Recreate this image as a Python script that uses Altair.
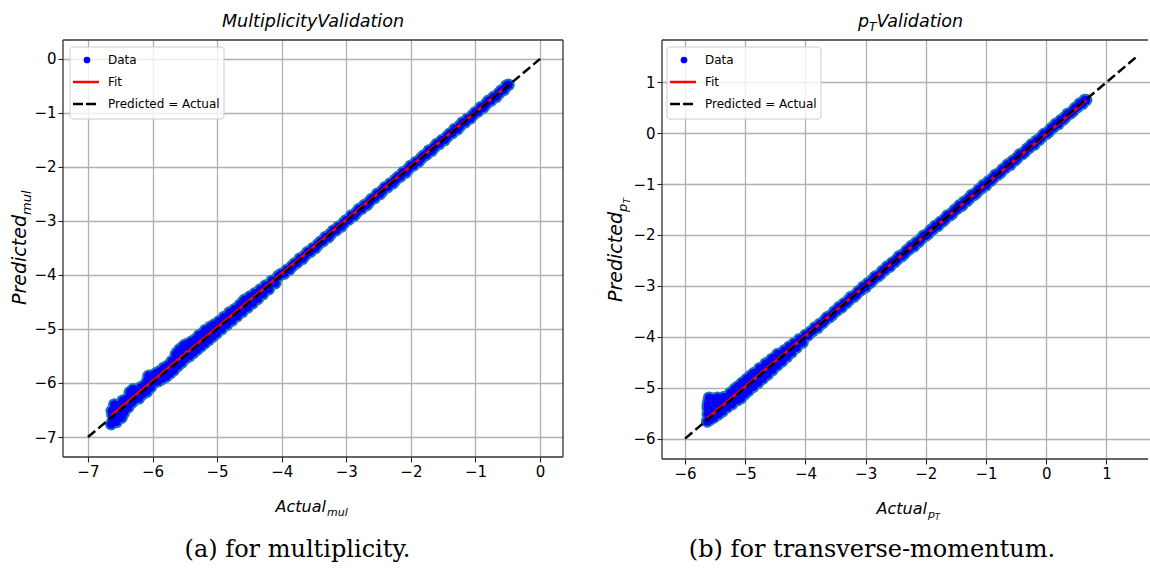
import altair as alt
import pandas as pd

SANS = "DejaVu Sans"
SERIF = "DejaVu Serif"

# ---------------- multiplicity validation data ----------------
mul_actual = [
    -6.64, -6.63, -6.61, -6.59, -6.56, -6.54, -6.51, -6.48, -6.46, -6.43,
    -6.40, -6.38, -6.35, -6.32, -6.30, -6.27, -6.24, -6.21, -6.18, -6.15,
    -6.12, -6.09, -6.06, -6.03, -6.00, -5.97, -5.94, -5.91, -5.88, -5.85,
    -5.82, -5.79, -5.76, -5.73, -5.70, -5.67, -5.64, -5.61, -5.58, -5.55,
    -5.52, -5.49, -5.46, -5.43, -5.40, -5.37, -5.34, -5.31, -5.28, -5.25,
    -5.22, -5.19, -5.16, -5.13, -5.10, -5.07, -5.04, -5.01, -4.97, -4.93,
    -4.89, -4.85, -4.81, -4.77, -4.73, -4.69, -4.65, -4.61, -4.57, -4.53,
    -4.49, -4.45, -4.41, -4.37, -4.33, -4.29, -4.25, -4.20, -4.15, -4.10,
    -4.05,
    -4.00, -3.96, -3.92, -3.88, -3.84, -3.80, -3.76, -3.72, -3.68, -3.64,
    -3.60, -3.56, -3.52, -3.48, -3.44, -3.40, -3.36, -3.32, -3.28, -3.24,
    -3.20, -3.16, -3.12, -3.08, -3.04, -3.00, -2.96, -2.92, -2.88, -2.84,
    -2.80, -2.76, -2.72, -2.68, -2.64, -2.60, -2.56, -2.52, -2.48, -2.44,
    -2.40, -2.36, -2.32, -2.28, -2.24, -2.20, -2.16, -2.12, -2.08, -2.04,
    -2.00, -1.96, -1.92, -1.88, -1.84, -1.80, -1.76, -1.72, -1.68, -1.64,
    -1.60, -1.56, -1.52, -1.48, -1.44, -1.40, -1.36, -1.32, -1.28, -1.24,
    -1.20, -1.16, -1.12, -1.08, -1.04, -1.00, -0.96, -0.92, -0.88, -0.84,
    -0.80, -0.76, -0.72, -0.68, -0.64, -0.60, -0.56, -0.52, -0.49,
    -6.62, -6.58, -6.52, -6.45, -6.33, -6.08, -5.62, -5.56, -5.50, -5.44,
    -5.18, -4.60,
]
mul_predicted = [
    -6.76, -6.52, -6.62, -6.40, -6.72, -6.55, -6.44, -6.64, -6.33, -6.50,
    -6.30, -6.45, -6.17, -6.36, -6.12, -6.30, -6.16, -6.28, -6.08, -6.20,
    -6.04, -6.16, -5.87, -6.08, -5.86, -5.99, -5.82, -5.96, -5.78, -5.92,
    -5.72, -5.88, -5.68, -5.82, -5.60, -5.76, -5.48, -5.68, -5.38, -5.62,
    -5.32, -5.54, -5.28, -5.50, -5.24, -5.44, -5.20, -5.38, -5.12, -5.32,
    -5.08, -5.26, -5.02, -5.20, -4.96, -5.14, -4.92, -5.08, -4.86, -5.00,
    -4.78, -4.92, -4.70, -4.84, -4.64, -4.76, -4.56, -4.68, -4.46, -4.60,
    -4.40, -4.52, -4.34, -4.44, -4.27, -4.35, -4.20, -4.26, -4.11, -4.15,
    -4.02,
    -3.98, -3.97, -3.91, -3.90, -3.84, -3.79, -3.77, -3.70, -3.70, -3.64,
    -3.58, -3.57, -3.51, -3.50, -3.44, -3.39, -3.37, -3.30, -3.30, -3.24,
    -3.18, -3.17, -3.11, -3.10, -3.04, -2.99, -2.97, -2.90, -2.90, -2.84,
    -2.78, -2.77, -2.71, -2.70, -2.64, -2.59, -2.57, -2.50, -2.50, -2.44,
    -2.38, -2.37, -2.31, -2.30, -2.24, -2.19, -2.17, -2.10, -2.10, -2.04,
    -1.98, -1.97, -1.91, -1.90, -1.84, -1.79, -1.77, -1.70, -1.70, -1.64,
    -1.58, -1.57, -1.51, -1.50, -1.44, -1.39, -1.37, -1.30, -1.30, -1.24,
    -1.18, -1.17, -1.11, -1.10, -1.04, -0.99, -0.97, -0.90, -0.90, -0.84,
    -0.78, -0.77, -0.71, -0.70, -0.64, -0.59, -0.57, -0.50, -0.48,
    -6.58, -6.66, -6.42, -6.56, -6.22, -5.96, -5.44, -5.40, -5.30, -5.34,
    -5.02, -4.50,
]
mul_fit_actual = [-6.64, -0.50]
mul_fit_predicted = [-6.60, -0.49]
mul_identity = [-7.0, 0.0]
mul_ticks = [-7, -6, -5, -4, -3, -2, -1, 0]

# ---------------- transverse-momentum validation data ----------------
pt_actual = [
    -5.63, -5.62, -5.62, -5.61, -5.60, -5.58, -5.56, -5.55, -5.53, -5.52,
    -5.50, -5.48, -5.46, -5.45, -5.42, -5.40, -5.38, -5.35, -5.33, -5.30,
    -5.27, -5.25, -5.22, -5.19, -5.16, -5.13, -5.10, -5.07, -5.04, -5.01,
    -4.98, -4.95, -4.91, -4.87, -4.83, -4.79, -4.75, -4.71, -4.67, -4.63,
    -4.59, -4.55, -4.51, -4.47, -4.43, -4.39, -4.35, -4.31, -4.27, -4.23,
    -4.19, -4.15, -4.10, -4.05, -4.00,
    -3.96, -3.92, -3.88, -3.84, -3.80, -3.76, -3.72, -3.68, -3.64, -3.60,
    -3.56, -3.52, -3.48, -3.44, -3.40, -3.36, -3.32, -3.28, -3.24, -3.20,
    -3.16, -3.12, -3.08, -3.04, -3.00, -2.96, -2.92, -2.88, -2.84, -2.80,
    -2.76, -2.72, -2.68, -2.64, -2.60, -2.56, -2.52, -2.48, -2.44, -2.40,
    -2.36, -2.32, -2.28, -2.24, -2.20, -2.16, -2.12, -2.08, -2.04, -2.00,
    -1.96, -1.92, -1.88, -1.84, -1.80, -1.76, -1.72, -1.68, -1.64, -1.60,
    -1.56, -1.52, -1.48, -1.44, -1.40, -1.36, -1.32, -1.28, -1.24, -1.20,
    -1.16, -1.12, -1.08, -1.04, -1.00, -0.96, -0.92, -0.88, -0.84, -0.80,
    -0.76, -0.72, -0.68, -0.64, -0.60, -0.56, -0.52, -0.48, -0.44, -0.40,
    -0.36, -0.32, -0.28, -0.24, -0.20, -0.16, -0.12, -0.08, -0.04, 0.00,
    0.04, 0.08, 0.12, 0.16, 0.20, 0.24, 0.28, 0.32, 0.36, 0.40,
    0.44, 0.48, 0.52, 0.56, 0.60, 0.64, 0.66,
    -5.62, -5.60, -5.58, -5.57, -5.54, -5.51, -5.49, -5.44, -5.41, -5.37,
    -5.36, -5.30, -5.24, -5.18, -5.12, -5.06, -4.96, -4.86, -4.76, -4.66,
    -4.56, -4.46,
]
pt_predicted = [
    -5.66, -5.52, -5.40, -5.28, -5.20, -5.62, -5.46, -5.33, -5.22, -5.58,
    -5.42, -5.30, -5.20, -5.52, -5.38, -5.21, -5.46, -5.30, -5.19, -5.38,
    -5.20, -5.12, -5.32, -5.10, -5.02, -5.24, -4.98, -5.20, -4.90, -5.12,
    -4.84, -5.06, -4.77, -4.98, -4.71, -4.90, -4.64, -4.82, -4.57, -4.74,
    -4.49, -4.65, -4.41, -4.56, -4.34, -4.48, -4.27, -4.39, -4.20, -4.30,
    -4.13, -4.21, -4.05, -4.11, -3.97,
    -3.97, -3.91, -3.88, -3.82, -3.82, -3.75, -3.73, -3.68, -3.62, -3.61,
    -3.57, -3.51, -3.48, -3.42, -3.42, -3.35, -3.33, -3.28, -3.22, -3.21,
    -3.17, -3.11, -3.08, -3.02, -3.02, -2.95, -2.93, -2.88, -2.82, -2.81,
    -2.77, -2.71, -2.68, -2.62, -2.62, -2.55, -2.53, -2.48, -2.42, -2.41,
    -2.37, -2.31, -2.28, -2.22, -2.22, -2.15, -2.13, -2.08, -2.02, -2.01,
    -1.97, -1.91, -1.88, -1.82, -1.82, -1.75, -1.73, -1.68, -1.62, -1.61,
    -1.57, -1.51, -1.48, -1.42, -1.42, -1.35, -1.33, -1.28, -1.22, -1.21,
    -1.17, -1.11, -1.08, -1.02, -1.02, -0.95, -0.93, -0.88, -0.82, -0.81,
    -0.77, -0.71, -0.68, -0.62, -0.62, -0.55, -0.53, -0.48, -0.42, -0.41,
    -0.37, -0.31, -0.28, -0.22, -0.22, -0.15, -0.13, -0.08, -0.02, -0.01,
    0.03, 0.09, 0.12, 0.18, 0.18, 0.25, 0.27, 0.32, 0.38, 0.39,
    0.43, 0.49, 0.52, 0.58, 0.58, 0.65, 0.65,
    -5.34, -5.46, -5.26, -5.56, -5.36, -5.26, -5.46, -5.34, -5.24, -5.36,
    -5.19, -5.22, -5.10, -5.04, -4.98, -4.92, -4.82, -4.72, -4.62, -4.53,
    -4.44, -4.34,
]
pt_fit_actual = [-5.63, 0.66]
pt_fit_predicted = [-5.60, 0.64]
pt_identity = [-6.0, 1.5]
pt_ticks = [-6, -5, -4, -3, -2, -1, 0, 1]

legend_labels = ["Data", "Fit", "Predicted = Actual"]
captions = ["(a) for multiplicity.", "(b) for transverse-momentum."]

one = pd.DataFrame({"k": [0]})


def text(s, x, y, size, italic=True, align="left", angle=0, font=SANS,
         baseline="alphabetic"):
    return alt.Chart(one).mark_text(
        text=s, font=font, fontSize=size,
        fontStyle="italic" if italic else "normal",
        align=align, baseline=baseline, angle=angle, color="black",
    ).encode(x=alt.value(x), y=alt.value(y))


def segment(x1, y1, x2, y2, color, width, dash=None):
    kw = dict(color=color, strokeWidth=width)
    if dash:
        kw["strokeDash"] = dash
    return alt.Chart(one).mark_rule(**kw).encode(
        x=alt.value(x1), x2=alt.value(x2), y=alt.value(y1), y2=alt.value(y2))


def legend(x0):
    box = alt.Chart(one).mark_rect(
        fill="white", fillOpacity=0.8, stroke="#cccccc", strokeWidth=1,
        cornerRadius=3,
    ).encode(x=alt.value(x0), x2=alt.value(x0 + 154),
             y=alt.value(7), y2=alt.value(79))
    dot = alt.Chart(one).mark_circle(size=45, color="#0000ff", opacity=1).encode(
        x=alt.value(x0 + 17), y=alt.value(20))
    fit = segment(x0 + 3, 42, x0 + 29, 42, "#ff0000", 2.5)
    ident = segment(x0 + 3, 64, x0 + 29, 64, "black", 2.5, [10, 3])
    rows = [20, 42, 64]
    labels = [text(lbl, x0 + 38, yy, 12, italic=False, baseline="middle")
              for lbl, yy in zip(legend_labels, rows)]
    return [box, dot, fit, ident] + labels


def data_layers(actual, predicted, fit_a, fit_p, ident, ticks, xdom, ydom):
    xs = alt.Scale(domain=xdom, nice=False, zero=False)
    ys = alt.Scale(domain=ydom, nice=False, zero=False)
    x_enc = alt.X("actual:Q", scale=xs,
                  axis=alt.Axis(values=ticks, format="d", title=None))
    y_enc = alt.Y("predicted:Q", scale=ys,
                  axis=alt.Axis(values=ticks, format="d", title=None))
    pts = pd.DataFrame({"actual": actual, "predicted": predicted})
    # light outline underneath, solid blue body on top
    halo = alt.Chart(pts).mark_circle(size=165, color="#1f77b4", opacity=1).encode(
        x=x_enc, y=y_enc)
    core = alt.Chart(pts).mark_circle(size=78, color="#0000ff", opacity=1).encode(
        x=x_enc, y=y_enc)
    fit = alt.Chart(pd.DataFrame({"actual": fit_a, "predicted": fit_p})).mark_line(
        color="#ff0000", strokeWidth=2.5).encode(x=x_enc, y=y_enc)
    diag = alt.Chart(pd.DataFrame({"actual": ident, "predicted": ident})).mark_line(
        color="black", strokeWidth=2.5, strokeDash=[9.5, 4]).encode(x=x_enc, y=y_enc)
    return [halo, core, fit, diag]


FRAME = "#333333"

# ---------------- left panel: multiplicity ----------------
LW, LH = 500, 417
left_spacer = alt.Chart(one).mark_rect(opacity=0).encode(
    x=alt.value(-63), x2=alt.value(LW), y=alt.value(-40), y2=alt.value(535))
left_frame = [
    segment(0, 0, LW, 0, FRAME, 1.3),
    segment(0, LH, LW, LH, FRAME, 1.3),
    segment(0, 0, 0, LH, FRAME, 1.3),
    segment(LW, 0, LW, LH, FRAME, 1.3),
]
left_text = [
    text("MultiplicityValidation", 250, -13, 17.5, align="center"),
    text("Actual", 263, 472, 16, align="right"),
    text("mul", 264, 475.5, 11),
    text("Predicted", -37, 175, 19, align="right", angle=270),
    text("mul", -32.5, 175, 13, align="left", angle=270),
    text(captions[0], 234.5, 517, 24, italic=False, align="center", font=SERIF),
]
left = alt.layer(
    left_spacer,
    *data_layers(mul_actual, mul_predicted, mul_fit_actual, mul_fit_predicted,
                 mul_identity, mul_ticks, [-7.386, 0.355], [-7.37, 0.35]),
    *left_frame, *legend(7), *left_text,
).properties(width=LW, height=LH)

# ---------------- right panel: transverse momentum ----------------
RW, RH = 488, 419
right_spacer = alt.Chart(one).mark_rect(opacity=0).encode(
    x=alt.value(0), x2=alt.value(487.5), y=alt.value(-40), y2=alt.value(535))
right_frame = [
    segment(0, 0, 486, 0, FRAME, 1.3),
    segment(0, RH, 486, RH, FRAME, 1.3),
    segment(0, 0, 0, RH, FRAME, 1.3),
]
right_text = [
    text("p", 196, -13, 17.5),
    text("T", 207, -9, 12),
    text("Validation", 214.5, -13, 17.5),
    text("Actual", 265, 474, 16, align="right"),
    text("p", 266, 477.5, 11),
    text("T", 273, 480, 8),
    text("Predicted", -40, 172, 19, align="right", angle=270),
    text("p", -35.5, 172, 13, align="left", angle=270),
    text("T", -32, 163.5, 9, align="left", angle=270),
    text(captions[1], 210, 517, 24, italic=False, align="center", font=SERIF),
]
right = alt.layer(
    right_spacer,
    *data_layers(pt_actual, pt_predicted, pt_fit_actual, pt_fit_predicted,
                 pt_identity, pt_ticks, [-6.383, 1.723], [-6.4, 1.83]),
    *right_frame, *legend(5), *right_text,
).properties(width=RW, height=RH)

chart = alt.hconcat(left, right, spacing=99, bounds="flush").properties(
    padding=0, background="white"
).configure_view(stroke=None).configure_axis(
    labelFont=SANS, labelFontSize=15, labelColor="black",
    tickColor="#222222", tickSize=5, tickWidth=1.1,
    gridColor="#b0b0b0", gridWidth=1.3, gridOpacity=1,
    domain=False, labelPadding=2,
)

chart.save("out.html", embed_options={"renderer": "svg", "actions": False})
